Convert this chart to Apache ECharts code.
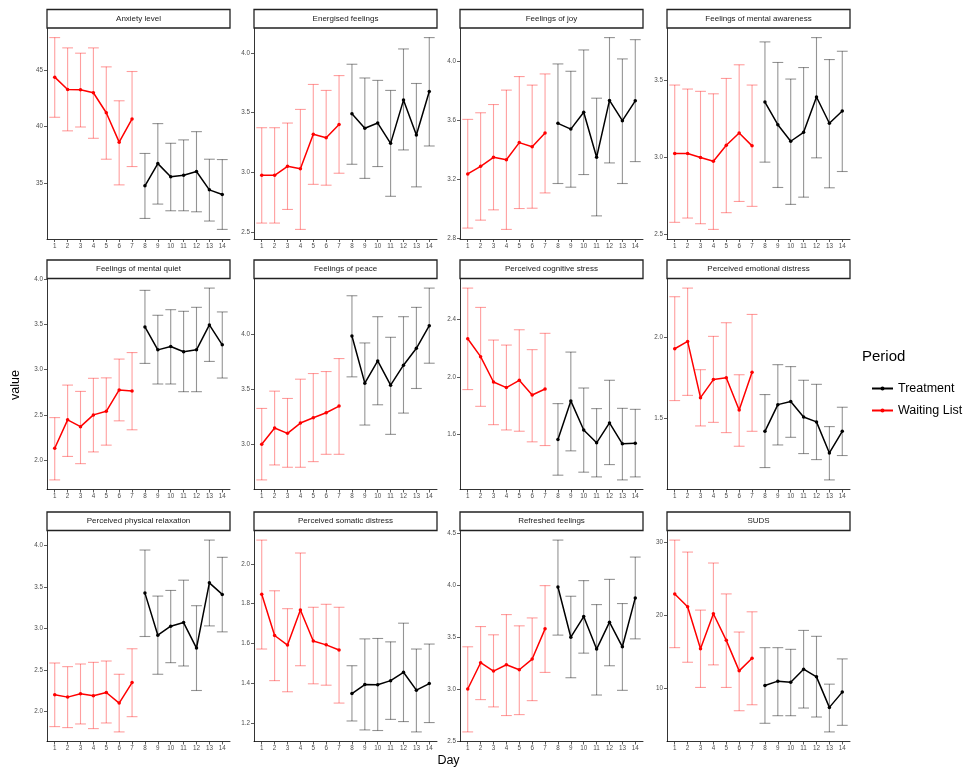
<!DOCTYPE html>
<html><head><meta charset="utf-8">
<script src="https://cdn.jsdelivr.net/npm/echarts@6/dist/echarts.min.js"></script>
<style>html,body{margin:0;padding:0;background:#fff}#c{width:968px;height:767px}</style>
</head><body><div id="c"></div><script>
// ---------- DATA ----------
const days = [1,2,3,4,5,6,7,8,9,10,11,12,13,14];
const waitingDays = [1,2,3,4,5,6,7];
const treatmentDays = [8,9,10,11,12,13,14];
const periodNames = ['Treatment','Waiting List'];
const panelTitles = ['Anxiety level','Energised feelings','Feelings of joy','Feelings of mental awareness',
  'Feelings of mental quiet','Feelings of peace','Perceived cognitive stress','Perceived emotional distress',
  'Perceived physical relaxation','Perceived somatic distress','Refreshed feelings','SUDS'];

const anxietyMean  = [44.35,43.26,43.24,42.97,41.2,38.6,40.65,34.74,36.7,35.53,35.68,36.0,34.38,33.97];
const anxietyLower = [40.8,39.6,39.94,38.94,37.09,34.82,36.44,31.85,33.12,32.53,32.53,32.44,31.62,30.88];
const anxietyUpper = [47.85,46.94,46.47,46.94,45.26,42.26,44.85,37.6,40.24,38.5,38.8,39.53,37.09,37.06];
const anxietyTicks = [35,40,45];

const energisedMean  = [2.976,2.976,3.051,3.03,3.32,3.29,3.40,3.49,3.369,3.413,3.243,3.605,3.313,3.677];
const energisedLower = [2.576,2.576,2.69,2.523,2.90,2.893,2.993,3.068,2.95,3.049,2.80,3.188,2.879,3.221];
const energisedUpper = [3.374,3.374,3.413,3.527,3.736,3.686,3.81,3.905,3.79,3.77,3.686,4.033,3.744,4.128];
const energisedTicks = [2.5,3.0,3.5,4.0];

const joyMean  = [3.236,3.288,3.349,3.333,3.449,3.421,3.514,3.58,3.541,3.656,3.349,3.736,3.598,3.733];
const joyLower = [2.868,2.922,2.992,2.859,3.001,3.003,3.107,3.171,3.146,3.232,2.951,3.311,3.171,3.320];
const joyUpper = [3.607,3.652,3.708,3.806,3.898,3.84,3.916,3.984,3.934,4.079,3.751,4.163,4.018,4.149];
const joyTicks = [2.8,3.2,3.6,4.0];

const awarenessMean  = [3.024,3.024,2.998,2.974,3.078,3.158,3.074,3.359,3.212,3.104,3.162,3.392,3.221,3.301];
const awarenessLower = [2.576,2.604,2.567,2.53,2.639,2.712,2.68,2.968,2.803,2.693,2.74,2.996,2.801,2.907];
const awarenessUpper = [3.47,3.444,3.429,3.413,3.513,3.602,3.47,3.751,3.617,3.509,3.584,3.779,3.636,3.69];
const awarenessTicks = [2.5,3.0,3.5];

const quietMean  = [2.13,2.445,2.37,2.50,2.54,2.776,2.765,3.474,3.22,3.257,3.199,3.22,3.496,3.276];
const quietLower = [1.78,2.04,1.96,2.09,2.165,2.434,2.335,3.07,2.842,2.842,2.757,2.757,3.092,2.908];
const quietUpper = [2.47,2.83,2.76,2.905,2.91,3.118,3.19,3.879,3.603,3.665,3.647,3.691,3.904,3.64];
const quietTicks = [2.0,2.5,3.0,3.5,4.0];

const peaceMean  = [3.003,3.15,3.102,3.195,3.243,3.288,3.348,3.981,3.555,3.756,3.537,3.717,3.87,4.074];
const peaceLower = [2.682,2.817,2.796,2.796,2.847,2.913,2.913,3.612,3.177,3.36,3.093,3.285,3.507,3.735];
const peaceUpper = [3.327,3.483,3.417,3.591,3.642,3.66,3.777,4.344,3.918,4.155,3.969,4.155,4.239,4.413];
const peaceTicks = [3.0,3.5,4.0,4.5];

const cognitiveMean  = [2.267,2.142,1.965,1.926,1.977,1.874,1.916,1.563,1.833,1.63,1.54,1.679,1.533,1.537];
const cognitiveLower = [1.912,1.795,1.667,1.63,1.621,1.547,1.521,1.314,1.484,1.335,1.302,1.388,1.281,1.302];
const cognitiveUpper = [2.621,2.486,2.258,2.223,2.33,2.191,2.305,1.814,2.174,1.923,1.779,1.977,1.781,1.774];
const cognitiveTicks = [1.6,2.0,2.4];

const emotionalMean  = [1.93,1.975,1.629,1.74,1.752,1.553,1.785,1.422,1.586,1.605,1.51,1.48,1.289,1.422];
const emotionalLower = [1.611,1.643,1.455,1.477,1.414,1.33,1.422,1.199,1.338,1.385,1.285,1.248,1.123,1.273];
const emotionalUpper = [2.25,2.303,1.801,2.006,2.09,1.77,2.141,1.648,1.832,1.82,1.736,1.711,1.451,1.57];
const emotionalTicks = [1.5,2.0];

const relaxationMean  = [2.2,2.172,2.212,2.188,2.228,2.10,2.348,3.428,2.92,3.028,3.072,2.764,3.552,3.412];
const relaxationLower = [1.816,1.804,1.848,1.792,1.86,1.752,1.936,2.904,2.448,2.588,2.548,2.252,3.032,2.96];
const relaxationUpper = [2.584,2.54,2.572,2.592,2.608,2.448,2.756,3.948,3.392,3.46,3.584,3.276,4.068,3.86];
const relaxationTicks = [2.0,2.5,3.0,3.5,4.0];

const somaticMean  = [1.848,1.64,1.592,1.768,1.612,1.593,1.567,1.348,1.393,1.392,1.413,1.455,1.365,1.398];
const somaticLower = [1.572,1.413,1.357,1.488,1.397,1.39,1.30,1.21,1.165,1.162,1.218,1.207,1.155,1.202];
const somaticUpper = [2.12,1.865,1.775,2.055,1.782,1.797,1.782,1.488,1.623,1.625,1.608,1.702,1.572,1.597];
const somaticTicks = [1.2,1.4,1.6,1.8,2.0];

const refreshedMean  = [3.001,3.253,3.173,3.234,3.186,3.288,3.578,3.98,3.498,3.696,3.384,3.642,3.406,3.875];
const refreshedLower = [2.589,2.899,2.829,2.746,2.755,2.889,3.16,3.518,3.109,3.345,2.943,3.224,2.988,3.482];
const refreshedUpper = [3.406,3.60,3.521,3.715,3.607,3.683,3.993,4.43,3.891,4.041,3.811,4.053,3.821,4.267];
const refreshedTicks = [2.5,3.0,3.5,4.0,4.5];

const sudsMean  = [22.95,21.18,15.45,20.23,16.59,12.41,14.14,10.41,11.0,10.86,12.64,11.59,7.41,9.5];
const sudsLower = [15.59,13.59,10.14,13.23,10.14,6.95,7.77,5.23,6.27,6.27,7.32,6.09,4.05,4.95];
const sudsUpper = [30.32,28.68,20.73,27.18,22.95,17.73,20.5,15.59,15.59,15.36,17.95,17.14,10.59,14.05];
const sudsTicks = [10,20,30];

// ---------- BUILD ----------
const panels = [
  [anxietyMean,anxietyLower,anxietyUpper,anxietyTicks,0],
  [energisedMean,energisedLower,energisedUpper,energisedTicks,1],
  [joyMean,joyLower,joyUpper,joyTicks,1],
  [awarenessMean,awarenessLower,awarenessUpper,awarenessTicks,1],
  [quietMean,quietLower,quietUpper,quietTicks,1],
  [peaceMean,peaceLower,peaceUpper,peaceTicks,1],
  [cognitiveMean,cognitiveLower,cognitiveUpper,cognitiveTicks,1],
  [emotionalMean,emotionalLower,emotionalUpper,emotionalTicks,1],
  [relaxationMean,relaxationLower,relaxationUpper,relaxationTicks,1],
  [somaticMean,somaticLower,somaticUpper,somaticTicks,1],
  [refreshedMean,refreshedLower,refreshedUpper,refreshedTicks,1],
  [sudsMean,sudsLower,sudsUpper,sudsTicks,0]
].map((a,i)=>({title:panelTitles[i],mean:a[0],lower:a[1],upper:a[2],ticks:a[3],dec:a[4]}));

const FONT = '"Liberation Sans", Arial, Helvetica, sans-serif';
const RED = '#ff0000', BLACK = '#000000';
const RED_BAR = 'rgba(255,0,0,0.38)', BLACK_BAR = 'rgba(0,0,0,0.42)';
const colLeft = [47,254,460,667], rowTop = [28,278.5,530.5];
const PW = 183, PH = 211, STRIP = 18.5;

function errRender(color){
  return function(params, api){
    const x = api.value(0), lo = api.value(1), hi = api.value(2);
    const pLo = api.coord([x, lo]), pHi = api.coord([x, hi]);
    const hw = api.size([0.42, 0])[0];
    const st = {stroke:color, lineWidth:1.1, fill:null};
    return {type:'group', children:[
      {type:'line', shape:{x1:pHi[0],y1:pHi[1],x2:pLo[0],y2:pLo[1]}, style:st},
      {type:'line', shape:{x1:pHi[0]-hw,y1:pHi[1],x2:pHi[0]+hw,y2:pHi[1]}, style:st},
      {type:'line', shape:{x1:pLo[0]-hw,y1:pLo[1],x2:pLo[0]+hw,y2:pLo[1]}, style:st}
    ]};
  };
}

const grids=[], xAxes=[], yAxes=[], lineSeries=[], barSeries=[], graphics=[];
panels.forEach((p,i)=>{
  const r = Math.floor(i/4), c = i%4;
  const L = colLeft[c], T = rowTop[r];
  grids.push({left:L, top:T, width:PW, height:PH, containLabel:false, outerBoundsMode:'none'});
  const dmin = Math.min(...p.lower), dmax = Math.max(...p.upper);
  const pad = (dmax-dmin)*0.05;
  xAxes.push({type:'value', gridIndex:i, min:0.4, max:14.6,
    axisLine:{show:true, onZero:false, lineStyle:{color:'#000', width:0.8}},
    axisTick:{show:true, length:3, customValues:days, lineStyle:{color:'#333', width:0.8}},
    axisLabel:{show:true, customValues:days, fontSize:6.3, color:'#4d4d4d', margin:4, fontFamily:FONT},
    splitLine:{show:false}});
  yAxes.push({type:'value', gridIndex:i, min:dmin-pad, max:dmax+pad,
    axisLine:{show:true, onZero:false, lineStyle:{color:'#000', width:0.8}},
    axisTick:{show:true, length:3, customValues:p.ticks, lineStyle:{color:'#333', width:0.8}},
    axisLabel:{show:true, customValues:p.ticks, fontSize:6.3, color:'#4d4d4d', margin:4, fontFamily:FONT,
      formatter:(v)=>Number(v).toFixed(p.dec)},
    splitLine:{show:false}});
  const groups = [
    {name:'Treatment', d:treatmentDays, color:BLACK, bar:BLACK_BAR},
    {name:'Waiting List', d:waitingDays, color:RED, bar:RED_BAR}
  ];
  groups.forEach(g=>{
    lineSeries.push({type:'line', name:g.name, xAxisIndex:i, yAxisIndex:i,
      data:g.d.map(d=>[d, p.mean[days.indexOf(d)]]),
      symbol:'circle', symbolSize:3.5, showSymbol:true,
      itemStyle:{color:g.color}, lineStyle:{color:g.color, width:1.5},
      z:3, animation:false, silent:true});
    barSeries.push({type:'custom', name:g.name, xAxisIndex:i, yAxisIndex:i,
      data:g.d.map(d=>[d, p.lower[days.indexOf(d)], p.upper[days.indexOf(d)]]),
      encode:{x:0, y:[1,2]}, renderItem:errRender(g.bar), z:1, animation:false, silent:true});
  });
  graphics.push({type:'rect', shape:{x:L, y:T-STRIP, width:PW, height:STRIP},
    style:{fill:'#fff', stroke:'#222', lineWidth:1.3}, z:10});
  graphics.push({type:'text', x:L+PW/2, y:T-STRIP/2, z:11,
    style:{text:p.title, fill:'#1a1a1a', font:'8px '+FONT, textAlign:'center', textVerticalAlign:'middle', align:'center', verticalAlign:'middle'}});
});

graphics.push({type:'text', x:16, y:385, rotation:Math.PI/2,
  style:{text:'value', fill:'#000', font:'12.5px '+FONT, textAlign:'center', textVerticalAlign:'middle', align:'center', verticalAlign:'middle'}});
graphics.push({type:'text', x:448.5, y:761,
  style:{text:'Day', fill:'#000', font:'12.5px '+FONT, textAlign:'center', textVerticalAlign:'middle', align:'center', verticalAlign:'middle'}});
graphics.push({type:'text', x:862, y:357,
  style:{text:'Period', fill:'#000', font:'15px '+FONT, textAlign:'left', textVerticalAlign:'middle', align:'left', verticalAlign:'middle'}});

const chart = echarts.init(document.getElementById('c'), null, {renderer:'canvas'});
chart.setOption({
  animation:false,
  backgroundColor:'#ffffff',
  textStyle:{fontFamily:FONT},
  grid:grids, xAxis:xAxes, yAxis:yAxes,
  legend:{data:periodNames, orient:'vertical', left:866, top:377, itemWidth:21, itemHeight:5, itemGap:9,
    textStyle:{fontSize:12.5, color:'#000', fontFamily:FONT}, selectedMode:false},
  series:lineSeries.concat(barSeries),
  graphic:{elements:graphics}
});
</script></body></html>
